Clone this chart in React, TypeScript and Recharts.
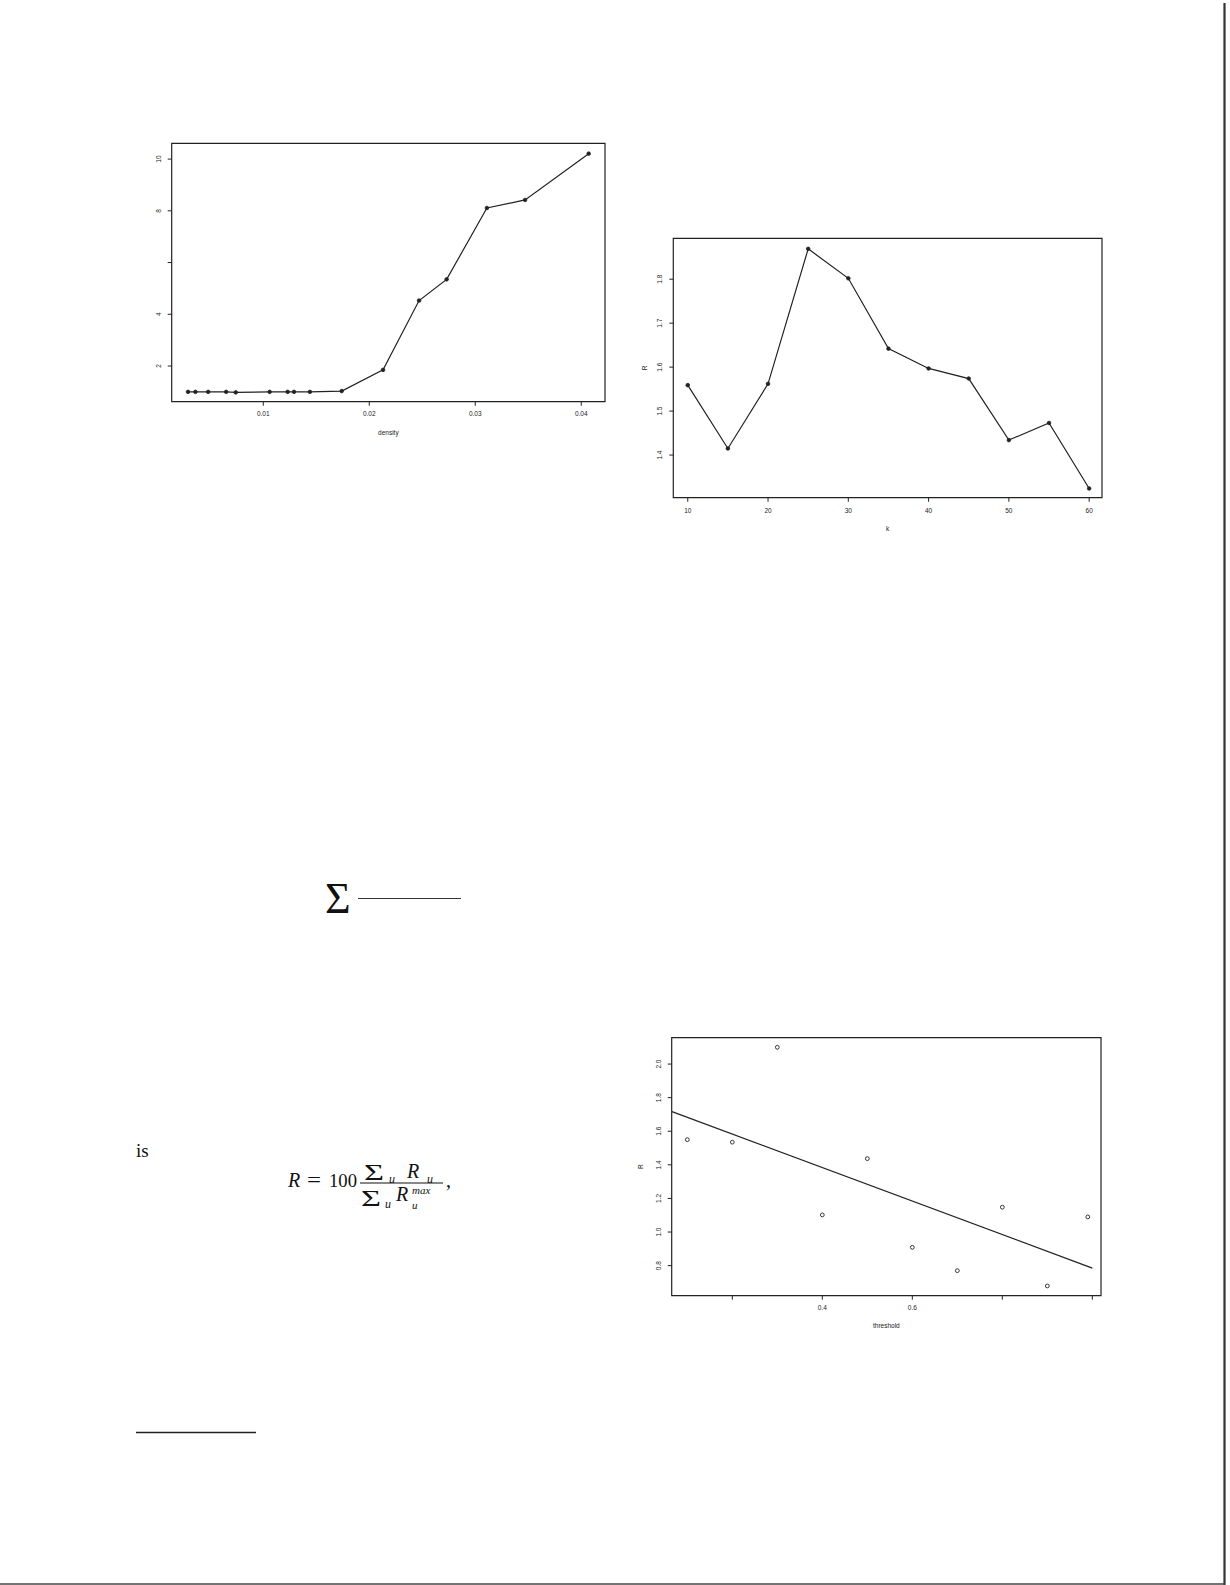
import React from "react";
import { LineChart, Line, XAxis, YAxis, ReferenceArea, ComposedChart, Scatter } from "recharts";

// ---------- Chart 1: R vs density ----------
const densityX = [0.0029, 0.0036, 0.0048, 0.0065, 0.0074, 0.0106, 0.0123, 0.0129, 0.0144, 0.0174, 0.0213, 0.0247, 0.0273, 0.0311, 0.0347, 0.0407];
const densityR = [1.0, 1.0, 1.0, 1.0, 0.98, 1.0, 1.0, 1.0, 1.0, 1.03, 1.85, 4.53, 5.35, 8.11, 8.42, 10.21];
const xTicks1 = [0.01, 0.02, 0.03, 0.04];
const xTickLabels1 = ["0.01", "0.02", "0.03", "0.04"];
const yTicks1 = [2, 4, 6, 8, 10];
const yTickLabels1 = ["2", "4", "", "8", "10"];
const xDomain1: [number, number] = [0.00136, 0.04224];
const yDomain1: [number, number] = [0.62, 10.61];

// ---------- Chart 2: R vs k ----------
const kX = [10, 15, 20, 25, 30, 35, 40, 45, 50, 55, 60];
const kR = [1.559, 1.415, 1.562, 1.869, 1.802, 1.642, 1.597, 1.574, 1.434, 1.473, 1.324];
const xTicks2 = [10, 20, 30, 40, 50, 60];
const xTickLabels2 = ["10", "20", "30", "40", "50", "60"];
const yTicks2 = [1.4, 1.5, 1.6, 1.7, 1.8];
const yTickLabels2 = ["1.4", "1.5", "1.6", "1.7", "1.8"];
const xDomain2: [number, number] = [8.2, 61.6];
const yDomain2: [number, number] = [1.303, 1.893];

// ---------- Chart 3: R vs threshold ----------
const thresholdX = [0.1, 0.2, 0.3, 0.4, 0.5, 0.6, 0.7, 0.8, 0.9, 0.99];
const thresholdR = [1.55, 1.535, 2.1, 1.102, 1.437, 0.909, 0.77, 1.148, 0.679, 1.09];
const fitX = [0.066, 1.0];
const fitR = [1.717, 0.785];
const xTicks3 = [0.2, 0.4, 0.6, 0.8, 1.0];
const xTickLabels3 = ["", "0.4", "0.6", "", ""];
const yTicks3 = [0.8, 1.0, 1.2, 1.4, 1.6, 1.8, 2.0];
const yTickLabels3 = ["0.8", "1.0", "1.2", "1.4", "1.6", "1.8", "2.0"];
const xDomain3: [number, number] = [0.0653, 1.0193];
const yDomain3: [number, number] = [0.621, 2.157];

const INK = "#222";
const SANS = "'Liberation Sans', Arial, Helvetica, sans-serif";
const SERIF = "'Liberation Serif', 'Times New Roman', serif";
const TICK_FS = 6.5;

const rows1 = densityX.map((x, i) => ({ x, y: densityR[i] }));
const rows2 = kX.map((x, i) => ({ x, y: kR[i] }));
const rows3 = thresholdX.map((x, i) => ({ x, y: thresholdR[i] }));
const fitRows = fitX.map((x, i) => ({ x, y: fitR[i] }));

const lookup = (ticks: number[], labels: string[]) => (v: number) => {
  const i = ticks.findIndex((t) => Math.abs(t - v) < 1e-9);
  return i >= 0 ? labels[i] : String(v);
};

const makeYTick = (ticks: number[], labels: string[]) => (props: any) => {
  const { x, y, payload } = props;
  const label = lookup(ticks, labels)(payload.value);
  const tx = x - 2;
  return (
    <text
      x={tx}
      y={y}
      transform={`rotate(-90 ${tx} ${y})`}
      textAnchor="middle"
      fontSize={TICK_FS}
      fill={INK}
      fontFamily={SANS}
    >
      {label}
    </text>
  );
};

const xTitle = (text: string, dy: number) => ({
  content: (p: any) => {
    const vb = p.viewBox || {};
    return (
      <text
        x={vb.x + vb.width / 2}
        y={vb.y + dy}
        textAnchor="middle"
        dominantBaseline="central"
        fontSize={6.5}
        fill={INK}
        fontFamily={SANS}
      >
        {text}
      </text>
    );
  },
});

const yTitle = (text: string, dx: number) => ({
  content: (p: any) => {
    const vb = p.viewBox || {};
    const cx = vb.x + vb.width - dx;
    const cy = vb.y + vb.height / 2;
    return (
      <text
        x={cx}
        y={cy}
        transform={`rotate(-90 ${cx} ${cy})`}
        textAnchor="middle"
        dominantBaseline="central"
        fontSize={6.5}
        fill={INK}
        fontFamily={SANS}
      >
        {text}
      </text>
    );
  },
});

const axisCommon = {
  axisLine: false,
  tickLine: { stroke: INK, strokeWidth: 1 },
  tickSize: 4,
  allowDataOverflow: true,
  interval: 0 as const,
};

const Chart1 = () => (
  <div style={{ position: "absolute", left: 100, top: 100 }}>
    <LineChart width={540} height={360} data={rows1} margin={{ top: 43.3, right: 35, bottom: 28.3, left: 41.7 }}>
      <XAxis
        {...axisCommon}
        type="number"
        dataKey="x"
        domain={xDomain1}
        ticks={xTicks1}
        tickFormatter={lookup(xTicks1, xTickLabels1)}
        tickMargin={6}
        height={30}
        tick={{ fontSize: TICK_FS, fill: INK, fontFamily: SANS }}
        label={xTitle("density", 31)}
      />
      <YAxis
        {...axisCommon}
        type="number"
        dataKey="y"
        domain={yDomain1}
        ticks={yTicks1}
        tickMargin={5}
        width={30}
        tick={makeYTick(yTicks1, yTickLabels1)}
      />
      <ReferenceArea
        x1={xDomain1[0]}
        x2={xDomain1[1]}
        y1={yDomain1[0]}
        y2={yDomain1[1]}
        fill="none"
        fillOpacity={0}
        stroke={INK}
        strokeWidth={1.2}
        ifOverflow="visible"
      />
      <Line
        type="linear"
        dataKey="y"
        stroke={INK}
        strokeWidth={1.2}
        dot={{ r: 1.8, fill: INK, stroke: INK, strokeWidth: 0.8 }}
        isAnimationActive={false}
      />
    </LineChart>
  </div>
);

const Chart2 = () => (
  <div style={{ position: "absolute", left: 600, top: 200 }}>
    <LineChart width={540} height={360} data={rows2} margin={{ top: 38.3, right: 38, bottom: 32.3, left: 43.3 }}>
      <XAxis
        {...axisCommon}
        type="number"
        dataKey="x"
        domain={xDomain2}
        ticks={xTicks2}
        tickFormatter={lookup(xTicks2, xTickLabels2)}
        tickMargin={7}
        height={30}
        tick={{ fontSize: TICK_FS, fill: INK, fontFamily: SANS }}
        label={xTitle("k", 31)}
      />
      <YAxis
        {...axisCommon}
        type="number"
        dataKey="y"
        domain={yDomain2}
        ticks={yTicks2}
        tickMargin={5}
        width={30}
        tick={makeYTick(yTicks2, yTickLabels2)}
        label={yTitle("R", 29)}
      />
      <ReferenceArea
        x1={xDomain2[0]}
        x2={xDomain2[1]}
        y1={yDomain2[0]}
        y2={yDomain2[1]}
        fill="none"
        fillOpacity={0}
        stroke={INK}
        strokeWidth={1.2}
        ifOverflow="visible"
      />
      <Line
        type="linear"
        dataKey="y"
        stroke={INK}
        strokeWidth={1.2}
        dot={{ r: 1.8, fill: INK, stroke: INK, strokeWidth: 0.8 }}
        isAnimationActive={false}
      />
    </LineChart>
  </div>
);

const OpenCircle = (p: any) => (
  <circle cx={p.cx} cy={p.cy} r={1.9} fill="#fff" stroke={INK} strokeWidth={0.9} />
);

const Chart3 = () => (
  <div style={{ position: "absolute", left: 600, top: 1000 }}>
    <ComposedChart width={540} height={360} margin={{ top: 37.7, right: 39, bottom: 34.3, left: 41.7 }}>
      <XAxis
        {...axisCommon}
        type="number"
        dataKey="x"
        domain={xDomain3}
        ticks={xTicks3}
        tickFormatter={lookup(xTicks3, xTickLabels3)}
        tickMargin={6}
        height={30}
        tick={{ fontSize: TICK_FS, fill: INK, fontFamily: SANS }}
        label={xTitle("threshold", 30)}
      />
      <YAxis
        {...axisCommon}
        type="number"
        dataKey="y"
        domain={yDomain3}
        ticks={yTicks3}
        tickMargin={5}
        width={30}
        tick={makeYTick(yTicks3, yTickLabels3)}
        label={yTitle("R", 30.7)}
      />
      <ReferenceArea
        x1={xDomain3[0]}
        x2={xDomain3[1]}
        y1={yDomain3[0]}
        y2={yDomain3[1]}
        fill="none"
        fillOpacity={0}
        stroke={INK}
        strokeWidth={1.2}
        ifOverflow="visible"
      />
      <Line
        data={fitRows}
        type="linear"
        dataKey="y"
        stroke={INK}
        strokeWidth={1.2}
        dot={false}
        isAnimationActive={false}
      />
      <Scatter data={rows3} dataKey="y" shape={OpenCircle} isAnimationActive={false} />
    </ComposedChart>
  </div>
);

const PageText = () => (
  <svg
    width={1230}
    height={1585}
    style={{ position: "absolute", left: 0, top: 0 }}
    fontFamily={SERIF}
  >
    {/* sum with rule */}
    <text x={325} y={913} fontSize={44} fill="#111">Σ</text>
    <line x1={358} y1={898.5} x2={461} y2={898.5} stroke="#333" strokeWidth={1} />

    {/* "is" */}
    <text x={136} y={1157} fontSize={19} fill="#111">is</text>

    {/* formula R = 100 (Σu Ru)/(Σu Ru^max), */}
    <text x={288} y={1187} fontSize={20} fontStyle="italic" fill="#111">R</text>
    <text x={307} y={1187} fontSize={20} fill="#111" textLength={14} lengthAdjust="spacingAndGlyphs">=</text>
    <text x={329} y={1187} fontSize={19} fill="#111" textLength={28} lengthAdjust="spacingAndGlyphs">100</text>
    <text x={364} y={1180} fontSize={23} fill="#111" textLength={20} lengthAdjust="spacingAndGlyphs">Σ</text>
    <text x={389} y={1183} fontSize={12} fontStyle="italic" fill="#111">u</text>
    <text x={407} y={1178} fontSize={20} fontStyle="italic" fill="#111">R</text>
    <text x={427} y={1183} fontSize={12} fontStyle="italic" fill="#111">u</text>
    <line x1={360} y1={1183} x2={443} y2={1183} stroke="#111" strokeWidth={1} />
    <text x={361} y={1206} fontSize={23} fill="#111" textLength={20} lengthAdjust="spacingAndGlyphs">Σ</text>
    <text x={385} y={1208} fontSize={12} fontStyle="italic" fill="#111">u</text>
    <text x={396} y={1201} fontSize={20} fontStyle="italic" fill="#111">R</text>
    <text x={412} y={1194} fontSize={11} fontStyle="italic" fill="#111">max</text>
    <text x={412} y={1209} fontSize={11} fontStyle="italic" fill="#111">u</text>
    <text x={446} y={1187} fontSize={20} fill="#111">,</text>

    {/* footnote rule */}
    <line x1={136} y1={1432.5} x2={256} y2={1432.5} stroke="#222" strokeWidth={1.5} />

    {/* page edges */}
    <line x1={1224.5} y1={3} x2={1224.5} y2={1585} stroke="#333" strokeWidth={2.2} />
    <line x1={0} y1={1584} x2={1225} y2={1584} stroke="#444" strokeWidth={1.5} />
  </svg>
);

export default function App() {
  return (
    <div
      style={{
        position: "absolute",
        left: 0,
        top: 0,
        width: 1230,
        height: 1585,
        background: "#fff",
        overflow: "hidden",
      }}
    >
      <PageText />
      <Chart1 />
      <Chart2 />
      <Chart3 />
    </div>
  );
}
